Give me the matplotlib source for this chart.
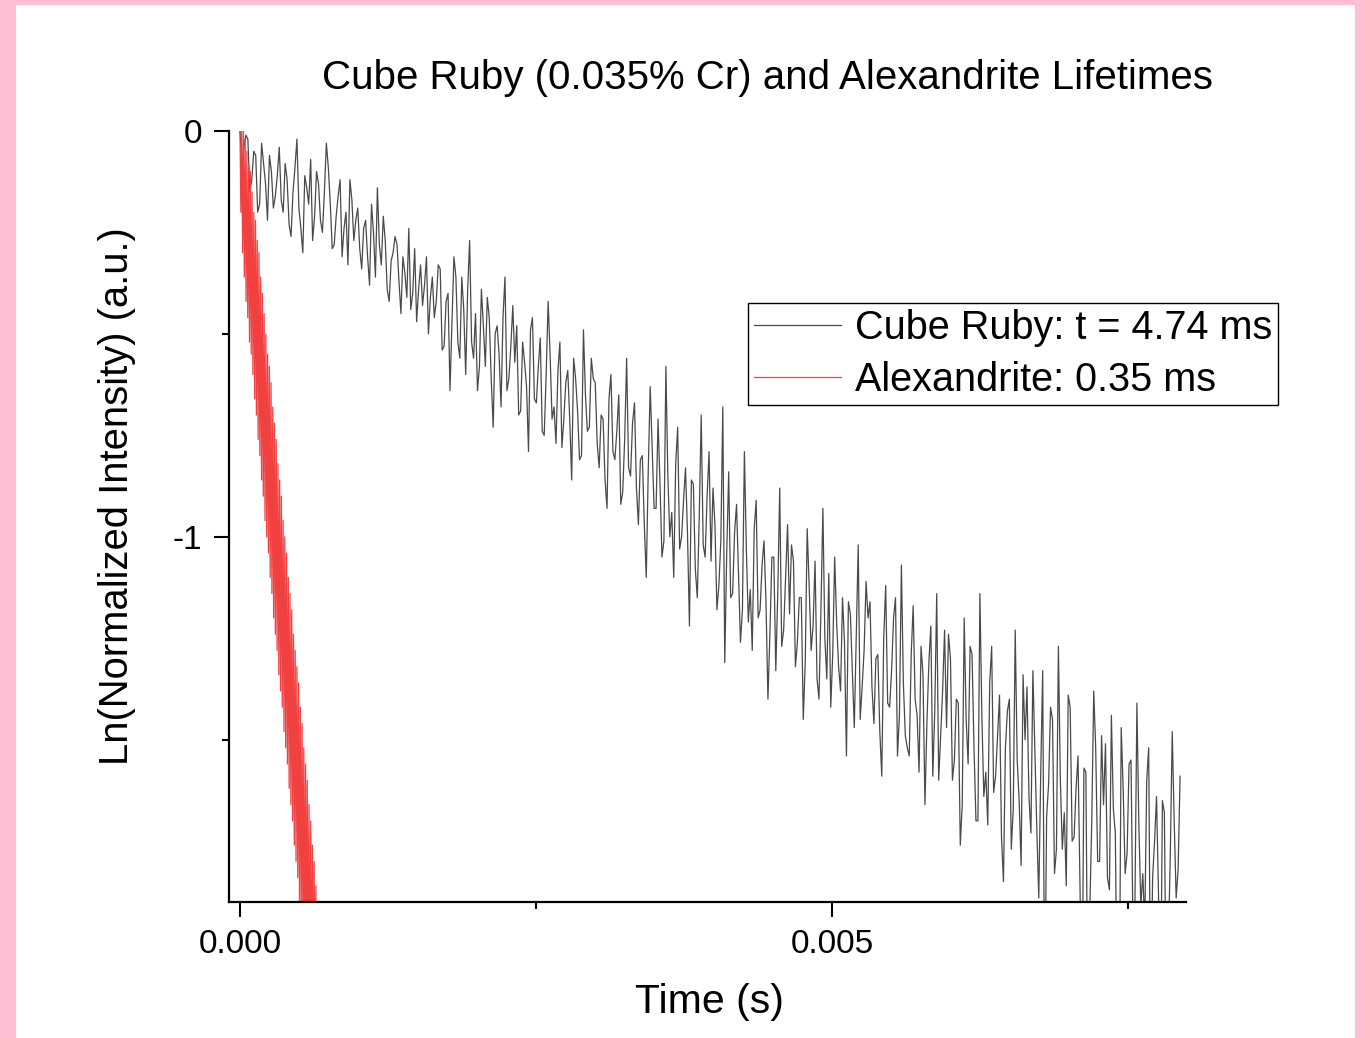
import numpy as np
import matplotlib
matplotlib.use("Agg")
import matplotlib.pyplot as plt
from matplotlib.patches import Rectangle

plt.rcParams['font.family'] = ['Liberation Sans', 'DejaVu Sans']

# ln(normalized intensity)
ruby_t_end = 0.00794
ruby_y = [
    0.00, -0.04, -0.02, -0.12, -0.06, -0.18, -0.08, -0.22, -0.10, -0.16,
    -0.04, -0.20, -0.12, -0.26, -0.09, -0.19, -0.30, -0.14, -0.07, -0.21,
    -0.13, -0.25, -0.03, -0.18, -0.28, -0.16, -0.31, -0.20, -0.12, -0.27,
    -0.19, -0.34, -0.22, -0.38, -0.25, -0.14, -0.33, -0.27, -0.42, -0.30,
    -0.28, -0.45, -0.35, -0.24, -0.40, -0.47, -0.33, -0.38, -0.50, -0.36,
    -0.42, -0.34, -0.53, -0.40, -0.47, -0.36, -0.56, -0.44, -0.39, -0.52,
    -0.45, -0.58, -0.48, -0.41, -0.61, -0.50, -0.55, -0.46, -0.64, -0.53,
    -0.57, -0.70, -0.52, -0.63, -0.49, -0.66, -0.58, -0.74, -0.60, -0.55,
    -0.68, -0.59, -0.78, -0.62, -0.71, -0.56, -0.69, -0.80, -0.65, -0.73,
    -0.61, -0.77, -0.70, -0.86, -0.66, -0.79, -0.74, -0.92, -0.76, -0.83,
    -0.72, -0.88, -0.81, -0.97, -0.84, -0.78, -0.93, -0.87, -1.01, -0.85,
    -0.94, -0.82, -1.03, -0.91, -0.99, -0.86, -1.08, -0.95, -1.02, -0.90,
    -1.06, -0.97, -1.12, -0.68, -1.04, -1.15, -0.99, -1.09, -1.18, -1.03,
    -1.13, -0.98, -1.20, -1.07, -1.16, -1.24, -1.05, -1.14, -1.27, -1.10,
    -1.19, -1.06, -1.26, -1.15, -1.31, -1.12, -1.22, -1.35, -1.18, -1.25,
    -1.09, -1.29, -1.21, -1.38, -1.26, -1.16, -1.33, -1.24, -1.45, -1.28,
    -1.20, -1.37, -1.30, -1.48, -1.25, -1.41, -1.33, -1.15, -1.44, -1.36,
    -1.52, -1.29, -1.40, -1.58, -1.34, -1.46, -1.22, -1.43, -1.60, -1.38,
    -1.47, -1.30, -1.55, -1.41, -1.66, -1.45, -1.27, -1.52, -1.70, -1.44,
    -1.58, -1.36, -1.63, -1.49, -1.74, -1.52, -1.40, -1.67, -1.55, -1.81,
    -1.50, -1.64, -1.33, -1.72, -1.58, -2.20, -1.61, -1.45, -1.77, -1.60,
    -1.68, -1.39, -1.75, -1.62, -1.86, -1.57, -2.20, -1.70, -1.52, -1.80,
    -1.66, -1.84, -1.44, -1.73, -2.20, -1.62, -1.78, -1.55, -1.90, -1.71,
    -1.83, -1.60, -2.20, -1.75, -1.88, -1.65, -2.20, -1.79, -1.70, -1.82,
]
# samples falling between the ones above
ruby_mid = [
    -0.08, -0.01, -0.15, -0.05, -0.20, -0.03, -0.13, -0.06, -0.19, -0.11,
    -0.17, -0.08, -0.23, -0.15, -0.02, -0.24, -0.11, -0.18, -0.27, -0.10,
    -0.22, -0.15, -0.09, -0.29, -0.21, -0.12, -0.24, -0.33, -0.17, -0.22,
    -0.29, -0.24, -0.31, -0.18, -0.36, -0.28, -0.21, -0.39, -0.32, -0.26,
    -0.37, -0.31, -0.41, -0.44, -0.29, -0.39, -0.43, -0.31, -0.41, -0.46,
    -0.33, -0.54, -0.42, -0.64, -0.31, -0.52, -0.36, -0.60, -0.27, -0.56,
    -0.64, -0.39, -0.58, -0.46, -0.73, -0.48, -0.68, -0.36, -0.61, -0.43,
    -0.48, -0.69, -0.57, -0.79, -0.46, -0.67, -0.51, -0.75, -0.42, -0.71,
    -0.77, -0.52, -0.71, -0.59, -0.86, -0.61, -0.81, -0.49, -0.74, -0.56,
    -0.62, -0.83, -0.71, -0.93, -0.60, -0.81, -0.65, -0.89, -0.56, -0.85,
    -0.67, -0.97, -0.80, -1.10, -0.63, -0.93, -0.71, -1.05, -0.58, -1.00,
    -1.10, -0.73, -1.00, -0.83, -1.22, -0.87, -1.15, -0.70, -1.05, -0.79,
    -0.88, -1.18, -1.01, -1.31, -0.84, -1.14, -0.92, -1.26, -0.79, -1.21,
    -1.28, -0.91, -1.18, -1.01, -1.40, -1.05, -1.33, -0.88, -1.23, -0.97,
    -1.02, -1.32, -1.15, -1.45, -0.98, -1.28, -1.06, -1.40, -0.93, -1.35,
    -1.42, -1.05, -1.32, -1.15, -1.54, -1.19, -1.47, -1.02, -1.37, -1.11,
    -1.16, -1.46, -1.29, -1.59, -1.12, -1.42, -1.20, -1.54, -1.07, -1.49,
    -1.54, -1.17, -1.44, -1.27, -1.66, -1.31, -1.59, -1.14, -1.49, -1.23,
    -1.24, -1.60, -1.40, -1.76, -1.20, -1.56, -1.29, -1.70, -1.14, -1.64,
    -1.71, -1.27, -1.59, -1.39, -1.85, -1.43, -1.77, -1.23, -1.65, -1.34,
    -1.37, -1.73, -1.53, -1.89, -1.33, -1.69, -1.42, -1.83, -1.27, -1.77,
    -1.86, -1.42, -1.74, -1.54, -2.20, -1.58, -1.92, -1.38, -1.80, -1.49,
    -1.51, -1.87, -1.67, -2.20, -1.47, -1.83, -1.56, -1.97, -1.41, -1.91,
    -1.96, -1.52, -1.84, -1.64, -2.20, -1.68, -2.01, -1.48, -1.89, -1.59,
]

alex_t_end = 0.000648
alex_y = [
    0.00, -0.20, 0.00, -0.30, 0.00, -0.36, -0.02, -0.42, -0.05, -0.46,
    -0.08, -0.52, -0.10, -0.55, -0.15, -0.60, -0.20, -0.66, -0.22, -0.70,
    -0.27, -0.76, -0.30, -0.80, -0.36, -0.86, -0.40, -0.90, -0.45, -0.96,
    -0.50, -1.00, -0.55, -1.04, -0.58, -1.10, -0.62, -1.14, -0.68, -1.20,
    -0.72, -1.24, -0.76, -1.28, -0.82, -1.34, -0.86, -1.38, -0.90, -1.42,
    -0.96, -1.48, -1.00, -1.52, -1.04, -1.56, -1.10, -1.62, -1.14, -1.66,
    -1.18, -1.70, -1.24, -1.76, -1.28, -1.80, -1.32, -1.84, -1.36, -1.90,
    -1.42, -1.94, -1.46, -2.00, -1.52, -2.04, -1.56, -2.10, -1.60, -2.14,
    -1.66, -2.20, -1.70, -2.20, -1.76, -2.20, -1.80, -2.20, -1.86, -2.20,
]

labels = ['Cube Ruby: t = 4.74 ms', 'Alexandrite: 0.35 ms']
ruby_all = np.column_stack([ruby_y, ruby_mid]).ravel()
ruby_t = np.linspace(0, ruby_t_end, len(ruby_all))
alex_t = np.linspace(0, alex_t_end, len(alex_y))

W, H = 1365, 1038
fig = plt.figure(figsize=(W / 100, H / 100), dpi=100)
fig.patch.set_facecolor('#FFC0D6')
fig.patches.append(Rectangle((16 / W, 0), (1355 - 16) / W, (H - 5) / H,
                             transform=fig.transFigure, facecolor='white',
                             edgecolor='none', zorder=-10))

ax = fig.add_axes([229 / W, 1 - 902 / H, (1186 - 229) / W, (902 - 131) / H])
ax.set_facecolor('none')
ax.plot(ruby_t, ruby_all, color='#4a4a4a', lw=0.9, label=labels[0])
ax.plot(alex_t, alex_y, color='#f04040', lw=0.9, label=labels[1])

ax.set_xlim(-0.000093, 0.00799)
ax.set_ylim(-1.9, 0)
ax.set_xticks([0, 0.005])
ax.set_xticklabels(['0.000', '0.005'])
ax.set_xticks([0.0025, 0.0075], minor=True)
ax.set_yticks([0, -1])
ax.set_yticklabels(['0', '-1'])
ax.set_yticks([-0.5, -1.5], minor=True)

for s in ['top', 'right']:
    ax.spines[s].set_visible(False)
for s in ['left', 'bottom']:
    ax.spines[s].set_linewidth(1.6)
ax.tick_params(which='major', direction='out', length=10.5, width=1.5,
               labelsize=24, pad=9)
ax.tick_params(which='minor', direction='out', length=5, width=1.5)

fig.text(767 / W, 1 - 78 / H, 'Cube Ruby (0.035% Cr) and Alexandrite Lifetimes',
         ha='center', va='center', fontsize=29)
fig.text(709 / W, 1 - 1002 / H, 'Time (s)', ha='center', va='center', fontsize=29.5)
fig.text(117 / W, 1 - 496 / H, 'Ln(Normalized Intensity) (a.u.)', ha='center',
         va='center', rotation=90, fontsize=28.8)

leg = fig.legend(loc='upper left', bbox_to_anchor=(748 / W, 1 - 303 / H),
                 fontsize=28.5, frameon=True, fancybox=False, edgecolor='black',
                 framealpha=1, handlelength=2.2, labelspacing=0.35,
                 borderaxespad=0, borderpad=0.15, handletextpad=0.35)
leg.get_frame().set_linewidth(1.0)

fig.savefig('out.png', dpi=100, facecolor=fig.get_facecolor())
